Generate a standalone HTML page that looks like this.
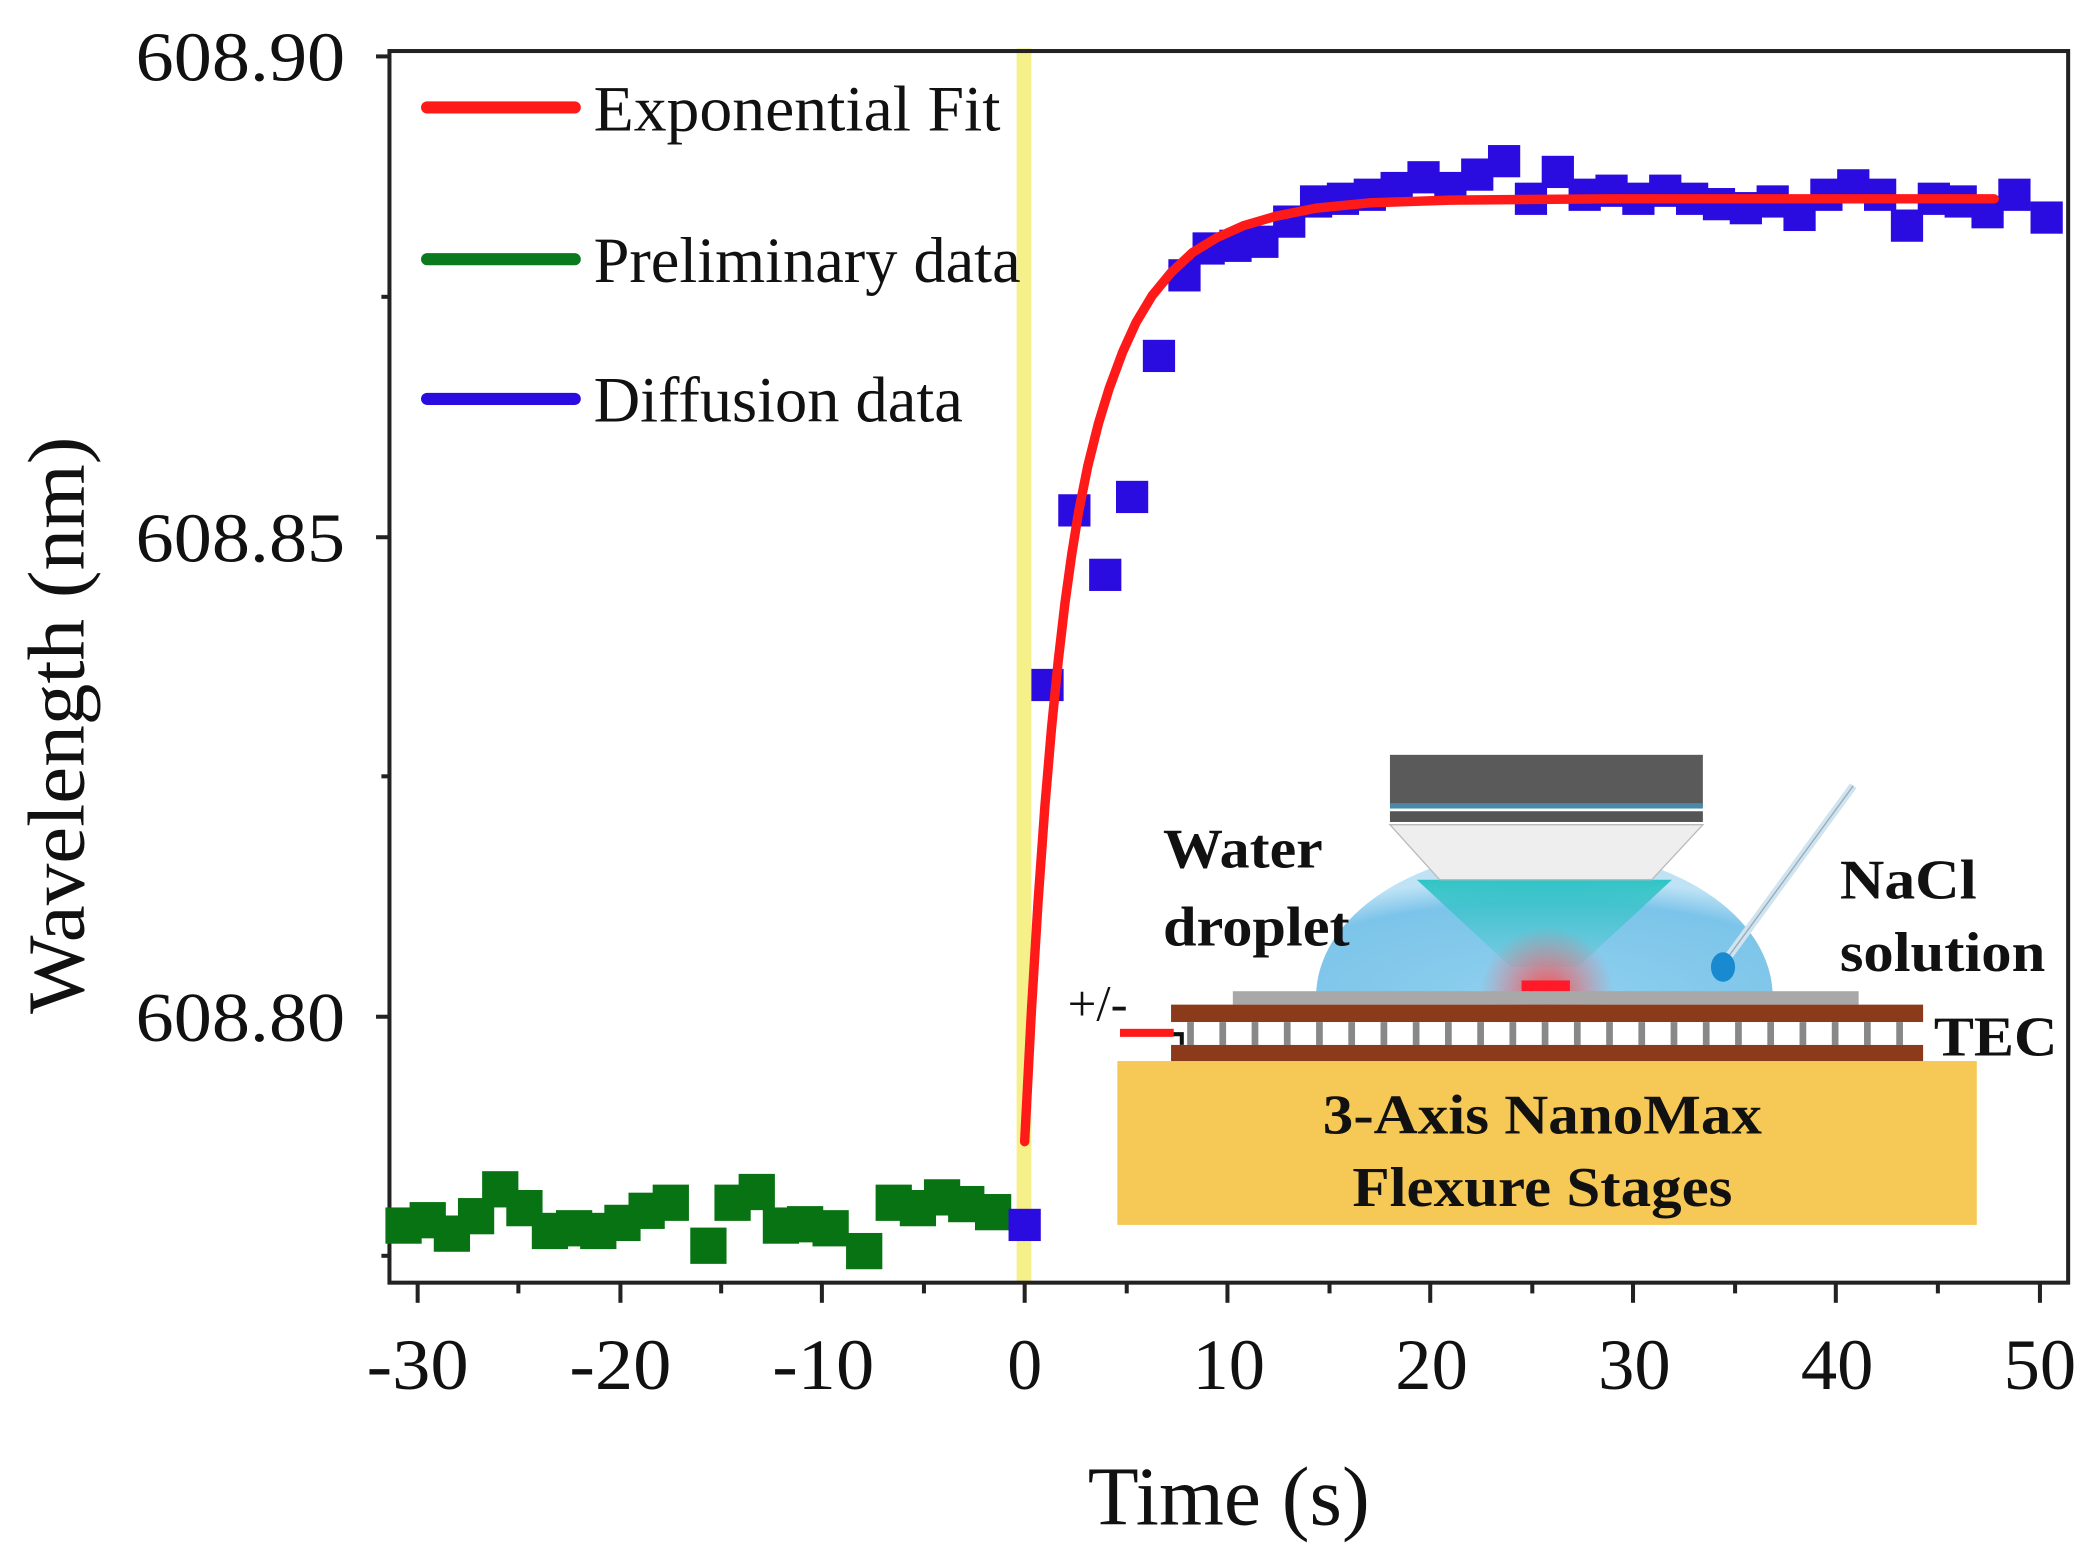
<!DOCTYPE html>
<html><head><meta charset="utf-8">
<style>html,body{margin:0;padding:0;background:#fff;overflow:hidden}svg{display:block}
text{font-family:"Liberation Serif",serif;fill:#111}</style></head>
<body>
<svg width="2095" height="1558" viewBox="0 0 1560 1160" preserveAspectRatio="none" xmlns="http://www.w3.org/2000/svg">
<defs>
<radialGradient id="drop" cx="0.5" cy="1" r="0.8">
<stop offset="0" stop-color="#8fd0ee"/><stop offset="0.8" stop-color="#7cc4ea"/><stop offset="1" stop-color="#bfe3f5"/></radialGradient>
<radialGradient id="glow" cx="0.5" cy="0.5" r="0.5">
<stop offset="0" stop-color="#ff4040" stop-opacity="0.9"/><stop offset="1" stop-color="#ff6060" stop-opacity="0"/></radialGradient>
<linearGradient id="cone" x1="0" y1="0" x2="0" y2="1">
<stop offset="0" stop-color="#20c0c0" stop-opacity="0.9"/><stop offset="1" stop-color="#40c8c8" stop-opacity="0.2"/></linearGradient>
</defs>
<rect x="757" y="36" width="11" height="920" fill="#f6f08a"/>
<rect x="290" y="38" width="1250" height="917" fill="none" stroke="#222" stroke-width="3"/>
<g stroke="#222" stroke-width="3">
<line x1="280" y1="42" x2="290" y2="42"/><line x1="280" y1="400" x2="290" y2="400"/><line x1="280" y1="757" x2="290" y2="757"/>
<line x1="284" y1="221" x2="290" y2="221"/><line x1="284" y1="578" x2="290" y2="578"/><line x1="284" y1="935" x2="290" y2="935"/>
</g>
<g stroke="#222" stroke-width="3">
<line x1="311" y1="955" x2="311" y2="970"/><line x1="462" y1="955" x2="462" y2="970"/><line x1="612" y1="955" x2="612" y2="970"/><line x1="763" y1="955" x2="763" y2="970"/><line x1="914" y1="955" x2="914" y2="970"/><line x1="1065" y1="955" x2="1065" y2="970"/><line x1="1216" y1="955" x2="1216" y2="970"/><line x1="1367" y1="955" x2="1367" y2="970"/><line x1="1519" y1="955" x2="1519" y2="970"/>
<line x1="386" y1="955" x2="386" y2="963"/><line x1="537" y1="955" x2="537" y2="963"/><line x1="688" y1="955" x2="688" y2="963"/><line x1="839" y1="955" x2="839" y2="963"/><line x1="990" y1="955" x2="990" y2="963"/><line x1="1141" y1="955" x2="1141" y2="963"/><line x1="1292" y1="955" x2="1292" y2="963"/><line x1="1443" y1="955" x2="1443" y2="963"/>
</g>
<g font-size="52">
<text x="101" y="60" textLength="156" lengthAdjust="spacingAndGlyphs">608.90</text>
<text x="101" y="418" textLength="156" lengthAdjust="spacingAndGlyphs">608.85</text>
<text x="101" y="775" textLength="156" lengthAdjust="spacingAndGlyphs">608.80</text>
</g>
<g font-size="54">
<text x="273" y="1034" textLength="76" lengthAdjust="spacingAndGlyphs">-30</text>
<text x="424" y="1034" textLength="76" lengthAdjust="spacingAndGlyphs">-20</text>
<text x="575" y="1034" textLength="76" lengthAdjust="spacingAndGlyphs">-10</text>
<text x="750" y="1034" textLength="26" lengthAdjust="spacingAndGlyphs">0</text>
<text x="888" y="1034" textLength="54" lengthAdjust="spacingAndGlyphs">10</text>
<text x="1039" y="1034" textLength="54" lengthAdjust="spacingAndGlyphs">20</text>
<text x="1190" y="1034" textLength="54" lengthAdjust="spacingAndGlyphs">30</text>
<text x="1341" y="1034" textLength="54" lengthAdjust="spacingAndGlyphs">40</text>
<text x="1492" y="1034" textLength="54" lengthAdjust="spacingAndGlyphs">50</text>
</g>
<text x="810" y="1135" font-size="62" textLength="210" lengthAdjust="spacingAndGlyphs">Time (s)</text>
<text transform="translate(62,755) rotate(-90)" font-size="60" textLength="430" lengthAdjust="spacingAndGlyphs">Wavelength (nm)</text>
<g stroke-width="9" stroke-linecap="round">
<line x1="318" y1="80" x2="428" y2="80" stroke="#ff1a1a"/>
<line x1="318" y1="193" x2="428" y2="193" stroke="#0a7a1e"/>
<line x1="318" y1="297" x2="428" y2="297" stroke="#2a0be0"/>
</g>
<g font-size="48">
<text x="442" y="97" textLength="303" lengthAdjust="spacingAndGlyphs">Exponential Fit</text>
<text x="442" y="210" textLength="318" lengthAdjust="spacingAndGlyphs">Preliminary data</text>
<text x="442" y="314" textLength="275" lengthAdjust="spacingAndGlyphs">Diffusion data</text>
</g>
<rect x="832" y="790" width="640" height="122" fill="#f6c856"/>
<text x="985" y="844" font-size="42" font-weight="bold" textLength="327" lengthAdjust="spacingAndGlyphs">3-Axis NanoMax</text>
<text x="1007" y="898" font-size="42" font-weight="bold" textLength="283" lengthAdjust="spacingAndGlyphs">Flexure Stages</text>
<path d="M980,742 A170,110 0 0 1 1320,742 Z" fill="url(#drop)"/>
<path d="M1055,655 L1245,655 L1175,720 L1125,720 Z" fill="url(#cone)"/>
<rect x="1035" y="562" width="233" height="38" fill="#5a5a5a"/>
<rect x="1035" y="598" width="233" height="4" fill="#4a8aa8"/>
<rect x="1035" y="604" width="233" height="8" fill="#555"/>
<path d="M1035,614 L1268,614 L1230,655 L1072,655 Z" fill="#eeeeee" stroke="#bbb" stroke-width="1"/>
<ellipse cx="1152" cy="740" rx="50" ry="50" fill="url(#glow)"/>
<rect x="1133" y="730" width="36" height="8" fill="#ff1a2a"/>
<rect x="918" y="738" width="466" height="10" fill="#a8a8a8"/>
<rect x="872" y="748" width="560" height="13" fill="#8b3a1a"/>
<rect x="872" y="761" width="560" height="17" fill="#fff"/>
<g fill="#888">
<rect x="884" y="761" width="5" height="17"/><rect x="908" y="761" width="5" height="17"/><rect x="932" y="761" width="5" height="17"/><rect x="956" y="761" width="5" height="17"/><rect x="980" y="761" width="5" height="17"/><rect x="1004" y="761" width="5" height="17"/><rect x="1028" y="761" width="5" height="17"/><rect x="1052" y="761" width="5" height="17"/><rect x="1076" y="761" width="5" height="17"/><rect x="1100" y="761" width="5" height="17"/><rect x="1124" y="761" width="5" height="17"/><rect x="1148" y="761" width="5" height="17"/><rect x="1172" y="761" width="5" height="17"/><rect x="1196" y="761" width="5" height="17"/><rect x="1220" y="761" width="5" height="17"/><rect x="1244" y="761" width="5" height="17"/><rect x="1268" y="761" width="5" height="17"/><rect x="1292" y="761" width="5" height="17"/><rect x="1316" y="761" width="5" height="17"/><rect x="1340" y="761" width="5" height="17"/><rect x="1364" y="761" width="5" height="17"/><rect x="1388" y="761" width="5" height="17"/><rect x="1412" y="761" width="5" height="17"/>
</g>
<rect x="872" y="778" width="560" height="12" fill="#8b3a1a"/>
<path d="M834,770 L880,770 L880,778" fill="none" stroke="#111" stroke-width="3"/>
<rect x="834" y="766" width="40" height="6" fill="#ff1a1a"/>
<line x1="1285" y1="715" x2="1380" y2="585" stroke="#cfe4ee" stroke-width="6"/>
<line x1="1285" y1="715" x2="1380" y2="585" stroke="#9ab" stroke-width="1"/>
<ellipse cx="1283" cy="720" rx="9" ry="11" fill="#1a8ad0"/>
<g font-size="42" font-weight="bold">
<text x="866" y="646" textLength="119" lengthAdjust="spacingAndGlyphs">Water</text>
<text x="866" y="704" textLength="139" lengthAdjust="spacingAndGlyphs">droplet</text>
<text x="1370" y="669" textLength="102" lengthAdjust="spacingAndGlyphs">NaCl</text>
<text x="1370" y="723" textLength="153" lengthAdjust="spacingAndGlyphs">solution</text>
<text x="1440" y="786" textLength="92" lengthAdjust="spacingAndGlyphs">TEC</text>
</g>
<text x="795" y="760" font-size="38">+/-</text>
<g fill="#087312">
<rect x="287" y="899" width="27" height="27"/><rect x="305" y="895" width="27" height="27"/><rect x="323" y="905" width="27" height="27"/><rect x="341" y="892" width="27" height="27"/><rect x="359" y="872" width="27" height="27"/><rect x="377" y="886" width="27" height="27"/><rect x="396" y="903" width="27" height="27"/><rect x="414" y="901" width="27" height="27"/><rect x="432" y="903" width="27" height="27"/><rect x="450" y="897" width="27" height="27"/><rect x="468" y="888" width="27" height="27"/><rect x="486" y="882" width="27" height="27"/><rect x="514" y="914" width="27" height="27"/><rect x="532" y="882" width="27" height="27"/><rect x="550" y="874" width="27" height="27"/><rect x="568" y="899" width="27" height="27"/><rect x="586" y="898" width="27" height="27"/><rect x="605" y="901" width="27" height="27"/><rect x="630" y="918" width="27" height="27"/><rect x="652" y="882" width="27" height="27"/><rect x="670" y="886" width="27" height="27"/><rect x="688" y="878" width="27" height="27"/><rect x="706" y="883" width="27" height="27"/><rect x="726" y="889" width="27" height="27"/>
</g>
<g fill="#2a0be0">
<rect x="751" y="900" width="24" height="24"/><rect x="768" y="498" width="24" height="24"/><rect x="788" y="368" width="24" height="24"/><rect x="811" y="416" width="24" height="24"/><rect x="831" y="358" width="24" height="24"/><rect x="851" y="253" width="24" height="24"/><rect x="870" y="193" width="24" height="24"/><rect x="888" y="173" width="24" height="24"/><rect x="908" y="171" width="24" height="24"/><rect x="928" y="168" width="24" height="24"/><rect x="948" y="153" width="24" height="24"/><rect x="968" y="138" width="24" height="24"/><rect x="988" y="136" width="24" height="24"/><rect x="1008" y="133" width="24" height="24"/><rect x="1028" y="128" width="24" height="24"/><rect x="1048" y="120" width="24" height="24"/><rect x="1068" y="128" width="24" height="24"/><rect x="1088" y="118" width="24" height="24"/><rect x="1108" y="108" width="24" height="24"/><rect x="1128" y="136" width="24" height="24"/><rect x="1148" y="116" width="24" height="24"/><rect x="1168" y="133" width="24" height="24"/><rect x="1188" y="130" width="24" height="24"/><rect x="1208" y="136" width="24" height="24"/><rect x="1228" y="130" width="24" height="24"/><rect x="1248" y="136" width="24" height="24"/><rect x="1268" y="140" width="24" height="24"/><rect x="1288" y="143" width="24" height="24"/><rect x="1308" y="138" width="24" height="24"/><rect x="1328" y="148" width="24" height="24"/><rect x="1348" y="133" width="24" height="24"/><rect x="1368" y="126" width="24" height="24"/><rect x="1388" y="133" width="24" height="24"/><rect x="1408" y="156" width="24" height="24"/><rect x="1428" y="136" width="24" height="24"/><rect x="1448" y="138" width="24" height="24"/><rect x="1468" y="146" width="24" height="24"/><rect x="1488" y="133" width="24" height="24"/><rect x="1512" y="150" width="24" height="24"/>
</g>
<path fill="none" stroke="#ff1a1a" stroke-width="7" stroke-linecap="round" d="M763,850 L768,753 L773,671 L778,601 L783,542 L788,492 L793,449 L798,413 L803,382 L810,347 L818,315 L826,289 L836,262 L846,240 L858,220 L872,203 L888,188 L906,177 L926,168 L950,161 L980,155 L1020,151 L1080,149 L1200,148 L1350,148 L1485,148"/>
</svg>
</body></html>
